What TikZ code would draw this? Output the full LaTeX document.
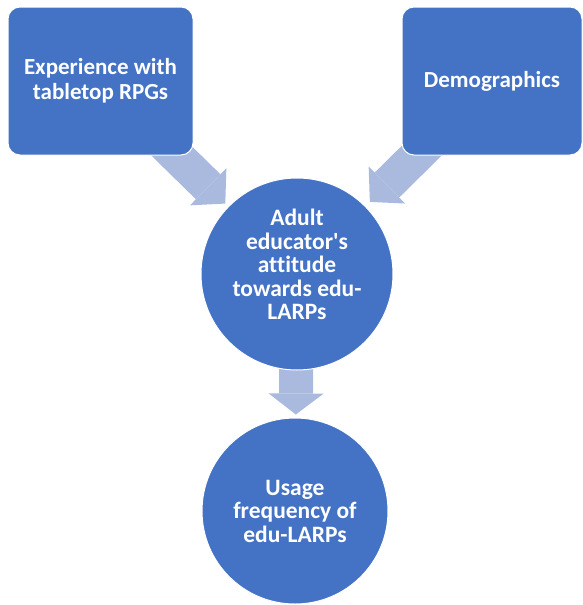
\documentclass[tikz,border=0pt]{standalone}
\usepackage{fontspec}
\setmainfont{Carlito}[Ligatures={NoCommon}]
\usetikzlibrary{arrows.meta,backgrounds}
\definecolor{boxblue}{RGB}{68,114,196}
\definecolor{arrowblue}{RGB}{170,185,222}
\begin{document}
\begin{tikzpicture}[x=1pt, y=-1pt, box/.style={rectangle, rounded corners=12pt, fill=boxblue, draw=white, line width=1pt, text=white, font=\fontsize{23}{25}\selectfont\bfseries, align=center, minimum height=148pt}, bubble/.style={circle, fill=boxblue, draw=white, line width=1pt, text=white, font=\fontsize{23.5}{23.5}\selectfont\bfseries, align=center, inner sep=0pt}, fatarrow/.style={draw=arrowblue, line width=35pt, -{Triangle[width=52pt, length=24pt, line width=0pt]}, shorten <=-30pt}]

\useasboundingbox (0,0) rectangle (582,605);

\node[box, minimum width=185pt] (exp) at (100.5,81) {Experience with\\tabletop RPGs};
\node[box, minimum width=180pt] (dem) at (492,81) {Demographics};
\node[bubble, minimum size=192pt] (att) at (297,274) {Adult\\educator\textquotesingle s\\attitude\\towards edu-\\LARPs\\[-5pt]\mbox{}};
\node[bubble, minimum size=186pt] (use) at (295,511) {Usage\\frequency of\\edu-LARPs};

\begin{scope}[on background layer]
    \draw[fatarrow, shorten >=4pt] (exp) -- (att);
    \draw[fatarrow, shorten >=6pt] (dem) -- (att);
    \draw[fatarrow, line width=34pt, -{Triangle[width=55pt, length=21pt, line width=0pt]}, shorten >=3pt] (att) -- (use);
\end{scope}
\end{tikzpicture}
\end{document}
